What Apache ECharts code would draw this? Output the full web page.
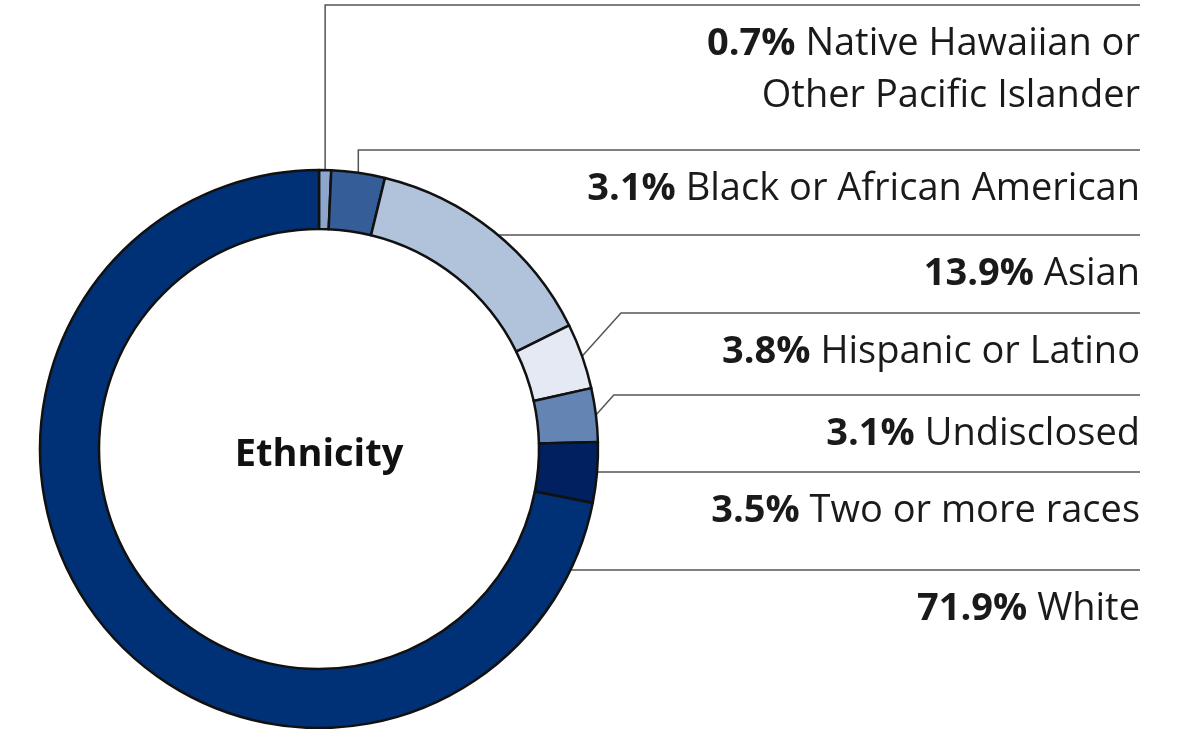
<!DOCTYPE html>
<html><head><meta charset="utf-8">
<script src="https://cdn.jsdelivr.net/npm/echarts@6/dist/echarts.min.js"></script>
<style>html,body{margin:0;padding:0;background:#fff}#c{width:1203px;height:729px}</style>
</head><body><div id="c"></div>
<script>
const categories = ['Native Hawaiian or\nOther Pacific Islander','Black or African American','Asian','Hispanic or Latino','Undisclosed','Two or more races','White'];
const percents = [0.7, 3.1, 13.9, 3.8, 3.1, 3.5, 71.9];
const colors = ['#8ea6cc','#355e99','#b1c3db','#e4e9f3','#6484b3','#00205f','#003075'];
// leader-line layout (not data): horizontal line y and style of knee
const lineY = [5, 150, 235, 313, 395, 472, 570];
const lineKind = ['vertical','vertical','flat','diag','diag','flat','flat'];

const CX = 319, CY = 449, R_IN = 220, R_OUT = 279, RIGHT = 1140;
const FONT = '"Open Sans", "Noto Sans", sans-serif';

const total = percents.reduce((a,b)=>a+b,0);
const cum = []; let acc = 0;
percents.forEach(v => { cum.push(acc + v/2); acc += v; });

const chart = echarts.init(document.getElementById('c'));
chart.setOption({
  animation: false,
  graphic: [{
    type: 'text', x: CX, y: CY + 6,
    style: { text: 'Ethnicity', font: 'bold 38px ' + FONT, fill: '#111', textAlign: 'center', textVerticalAlign: 'middle' }
  }],
  series: [{
    type: 'pie',
    center: [CX, CY],
    radius: [R_IN, R_OUT],
    startAngle: 90,
    clockwise: true,
    avoidLabelOverlap: false,
    emphasis: { disabled: true },
    itemStyle: { borderColor: '#111', borderWidth: 2.5 },
    label: {
      show: true,
      position: 'outside',
      align: 'right',
      formatter: p => '{b|' + percents[p.dataIndex].toFixed(1) + '% }{n|' + p.name.replace('\n', '}\n{n|') + '}',
      rich: {
        b: { fontFamily: FONT, fontWeight: 'bold', fontSize: 38, color: '#1a1a1a', lineHeight: 52 },
        n: { fontFamily: FONT, fontWeight: 'normal', fontSize: 38, color: '#1a1a1a', lineHeight: 52 }
      }
    },
    labelLine: { show: true, lineStyle: { color: '#555', width: 1.5 } },
    labelLayout: function (params) {
      const i = params.dataIndex;
      const ly = lineY[i];
      const kind = lineKind[i];
      let pts;
      if (kind === 'flat') {
        const dy = ly - CY;
        const sx = CX + Math.sqrt(R_OUT*R_OUT - dy*dy);
        pts = [[sx, ly], [sx, ly], [RIGHT, ly]];
      } else {
        const ang = cum[i] / total * 2 * Math.PI;
        const sx = CX + R_OUT * Math.sin(ang);
        const sy = CY - R_OUT * Math.cos(ang);
        if (kind === 'vertical') {
          pts = [[sx, sy], [sx, ly], [RIGHT, ly]];
        } else {
          const kx = sx + (sy - ly) * 0.9;
          pts = [[sx, sy], [kx, ly], [RIGHT, ly]];
        }
      }
      return { x: RIGHT, y: ly + 13, align: 'right', verticalAlign: 'top', labelLinePoints: pts };
    },
    data: categories.map((c, i) => ({ name: c, value: percents[i], itemStyle: { color: colors[i] } }))
  }]
});
</script></body></html>
